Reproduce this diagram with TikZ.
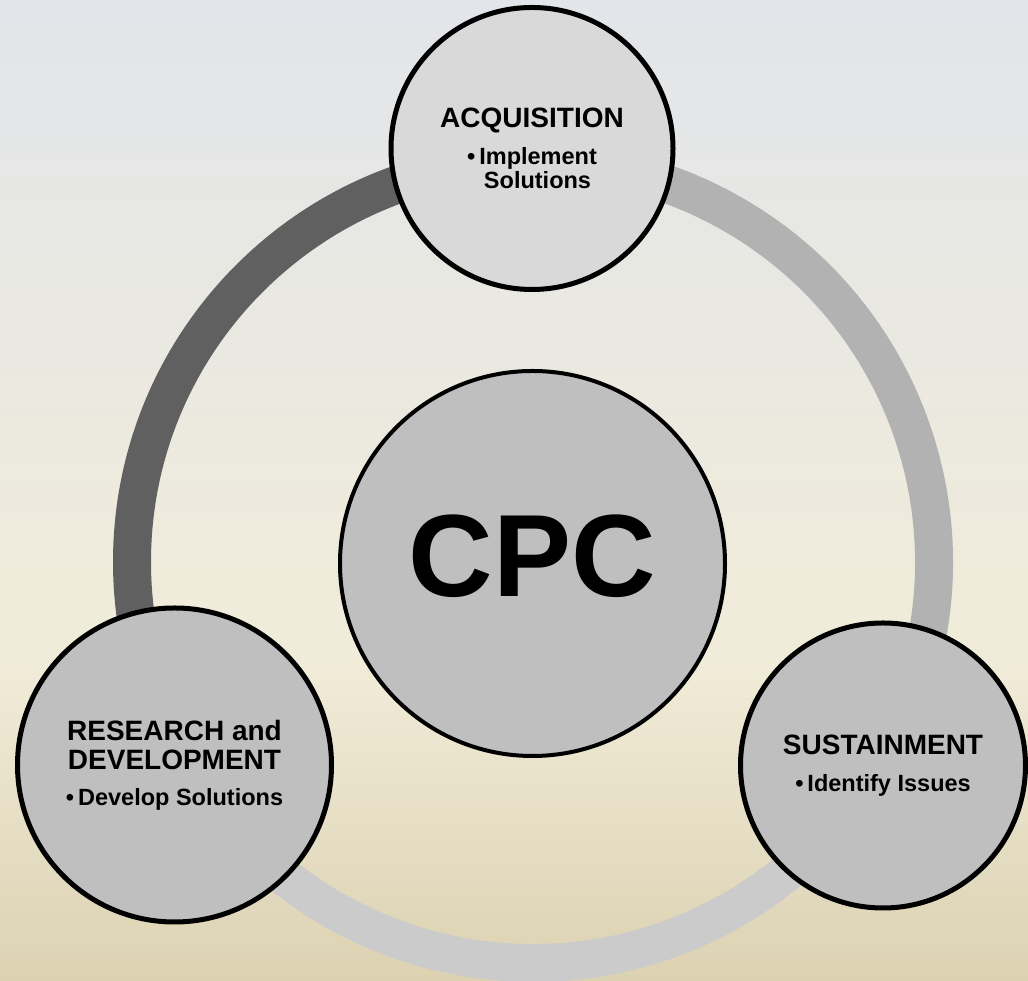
\documentclass[tikz,border=0pt]{standalone}
\usepackage{fontspec}
\setmainfont{Liberation Sans}
\usepackage{xcolor}
\usepackage{tikz}

\definecolor{bgtop}{HTML}{E2E5EA}
\definecolor{bgmid}{HTML}{F1ECD9}
\definecolor{bgbot}{HTML}{DCD2B2}
\definecolor{ringdark}{HTML}{606060}
\definecolor{ringmid}{HTML}{B2B2B2}
\definecolor{ringlight}{HTML}{CBCBCB}
\definecolor{stagefill}{HTML}{BFBFBF}
\definecolor{stagelight}{HTML}{D9D9D9}

\newcommand{\headfont}{\fontsize{28}{29}\selectfont\bfseries}
\newcommand{\itemfont}{\fontsize{23.5}{24}\selectfont\bfseries}

\begin{document}
\begin{tikzpicture}[
        x=1pt, y=1pt,
        stage/.style = {circle, draw=black, line width=5pt, fill=stagefill, inner sep=0pt, align=center, font=\headfont},
        hub/.style = {circle, draw=black, line width=4pt, fill=stagefill, inner sep=0pt, text depth=16pt, font=\fontsize{117}{120}\selectfont\bfseries},
        ring/.style = {line width=38pt}
    ]
        \clip (0,0) rectangle (1028,981);
        \fill[top color=bgtop, bottom color=bgmid] (0,321) rectangle (1028,981);
        \fill[top color=bgmid, bottom color=bgbot] (0,0) rectangle (1028,321);

        \coordinate (ctr) at (533,419);
        \draw[ring, ringdark] (ctr) ++ (90:401) arc[start angle=90, end angle=210, radius=401];
        \draw[ring, ringmid] (ctr) ++ (-30:401) arc[start angle=-30, end angle=90, radius=401];
        \draw[ring, ringlight] (ctr) ++ (210:401) arc[start angle=210, end angle=330, radius=401];

        \node[hub, minimum size=385pt] (cpc) at (532.5,417.5) {CPC};
        \node[stage, fill=stagelight, minimum size=282pt] (acq) at (532,832.5)
            {ACQUISITION\\[8pt]\itemfont •\hspace{4pt}Implement\\[-5pt]\itemfont\hspace*{11pt}Solutions};
        \node[stage, minimum size=314pt] (rnd) at (174.5,216)
            {RESEARCH and\\DEVELOPMENT\\[7pt]\itemfont •\hspace{4pt}Develop Solutions};
        \node[stage, minimum size=285pt] (sust) at (883,215.5)
            {SUSTAINMENT\\[8pt]\itemfont •\hspace{4pt}Identify Issues};
    \end{tikzpicture}
\end{document}
